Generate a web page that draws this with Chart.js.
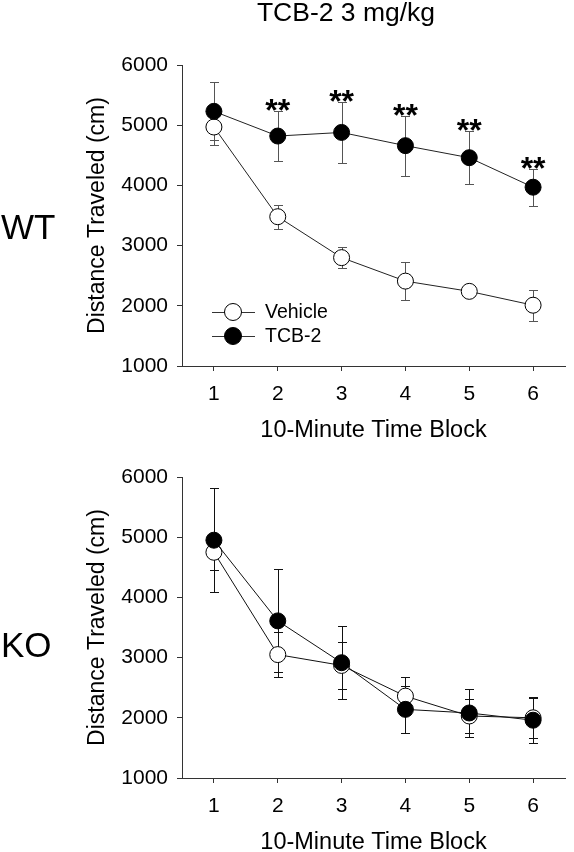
<!DOCTYPE html>
<html>
<head>
<meta charset="utf-8">
<script src="https://cdn.jsdelivr.net/npm/chart.js@4.4.1/dist/chart.umd.min.js"></script>
<style>
  html, body { margin: 0; padding: 0; background: #fff; overflow: hidden; }
  body { width: 574px; height: 852px; position: relative; font-family: 'Liberation Sans', Arial, sans-serif; }
  canvas { position: absolute; left: 0; }
  .lbl { position: absolute; line-height: 1; color: #000; white-space: nowrap; }
</style>
</head>
<body>
<canvas id="wtChart" width="574" height="445" style="top:0"></canvas>
<canvas id="koChart" width="574" height="412" style="top:445px"></canvas>
<div class="lbl" style="left:346px; top:-1px; font-size:26.5px; transform:translateX(-50%)">TCB-2 3 mg/kg</div>
<div class="lbl" style="left:1px; top:209px; font-size:35px">WT</div>
<div class="lbl" style="left:1px; top:627px; font-size:35px">KO</div>
<script>
const timeBlocks = ['1', '2', '3', '4', '5', '6'];

// WT mice
const wtVehicle = [4970, 3480, 2800, 2410, 2240, 2010];
const wtVehicleSem = [300, 200, 180, 310, 90, 255];
const wtTcb = [5230, 4820, 4880, 4660, 4460, 3970];
const wtTcbSem = [480, 410, 505, 500, 445, 305];
const wtSig = ['', '**', '**', '**', '**', '**'];

// KO mice
const koVehicle = [4750, 3050, 2870, 2360, 2030, 2000];
const koVehicleSem = [290, 370, 385, 320, 290, 335];
const koTcb = [4950, 3610, 2915, 2140, 2080, 1960];
const koTcbSem = [865, 855, 610, 395, 400, 380];

const yTicks = [1000, 2000, 3000, 4000, 5000, 6000];
const seriesNames = ['Vehicle', 'TCB-2'];

const FONT = "'Liberation Sans', Arial, Helvetica, sans-serif";
Chart.defaults.font.family = FONT;
Chart.defaults.color = '#000';

// SEM bars, drawn under the markers
const errorBars = {
  id: 'errorBars',
  beforeDatasetsDraw(chart, args, opts) {
    const { ctx } = chart;
    const y = chart.scales.y;
    ctx.save();
    ctx.strokeStyle = opts.color;
    ctx.lineWidth = 1;
    chart.data.datasets.forEach((ds, i) => {
      const meta = chart.getDatasetMeta(i);
      meta.data.forEach((pt, j) => {
        const hi = Math.round(y.getPixelForValue(ds.data[j] + ds.errors[j])) + 0.5;
        const lo = Math.round(y.getPixelForValue(ds.data[j] - ds.errors[j])) + 0.5;
        const x = Math.round(pt.x) + 0.5;
        ctx.beginPath();
        ctx.moveTo(x, hi);
        ctx.lineTo(x, lo);
        ctx.moveTo(x - opts.cap, hi);
        ctx.lineTo(x + opts.cap, hi);
        ctx.moveTo(x - opts.cap, lo);
        ctx.lineTo(x + opts.cap, lo);
        ctx.stroke();
      });
    });
    ctx.restore();
  },
};

// significance stars above the upper SEM bar
const sigMarks = {
  id: 'sigMarks',
  afterDatasetsDraw(chart) {
    const { ctx } = chart;
    const y = chart.scales.y;
    ctx.save();
    ctx.font = `bold 32px ${FONT}`;
    ctx.fillStyle = '#000';
    ctx.textAlign = 'center';
    ctx.textBaseline = 'alphabetic';
    chart.data.datasets.forEach((ds, i) => {
      if (!ds.marks) return;
      const meta = chart.getDatasetMeta(i);
      meta.data.forEach((pt, j) => {
        if (!ds.marks[j]) return;
        const top = y.getPixelForValue(ds.data[j] + ds.errors[j]);
        ctx.fillText(ds.marks[j], pt.x, top + 10);
      });
    });
    ctx.restore();
  },
};

// legend inside the plot, line through marker
const innerLegend = {
  id: 'innerLegend',
  afterDraw(chart, args, opts) {
    if (!opts.display) return;
    const { ctx, chartArea } = chart;
    const x0 = chartArea.left + 30;
    const fills = ['#fff', '#000'];
    ctx.save();
    ctx.font = `19.5px ${FONT}`;
    ctx.textBaseline = 'middle';
    seriesNames.forEach((name, k) => {
      const yy = chartArea.bottom - 54 + k * 24;
      ctx.strokeStyle = '#333';
      ctx.lineWidth = 1;
      ctx.beginPath();
      ctx.moveTo(x0, yy + 0.5);
      ctx.lineTo(x0 + 43, yy + 0.5);
      ctx.stroke();
      ctx.beginPath();
      ctx.arc(x0 + 21, yy, 8.5, 0, Math.PI * 2);
      ctx.fillStyle = fills[k];
      ctx.fill();
      ctx.strokeStyle = '#000';
      ctx.stroke();
      ctx.fillStyle = '#000';
      ctx.fillText(name, x0 + 53, yy + 1);
    });
    ctx.restore();
  },
};

function buildChart(canvasId, vehicle, vehicleSem, tcb, tcbSem, marks, cfg) {
  const ctx = document.getElementById(canvasId).getContext('2d');
  const AXIS = '#333';
  return new Chart(ctx, {
    type: 'line',
    data: {
      labels: timeBlocks,
      datasets: [
        {
          label: seriesNames[1],
          data: tcb,
          errors: tcbSem,
          marks: marks,
          borderColor: cfg.lineColor,
          borderWidth: 1,
          pointRadius: 8,
          pointBorderWidth: 1,
          pointBorderColor: '#000',
          pointBackgroundColor: '#000',
          tension: 0,
        },
        {
          label: seriesNames[0],
          data: vehicle,
          errors: vehicleSem,
          borderColor: cfg.lineColor,
          borderWidth: 1,
          pointRadius: 8,
          pointBorderWidth: 1,
          pointBorderColor: '#000',
          pointBackgroundColor: '#fff',
          tension: 0,
        },
      ],
    },
    options: {
      responsive: false,
      animation: false,
      layout: { padding: { left: 80, right: 2, top: cfg.top, bottom: 0 } },
      plugins: {
        legend: { display: false },
        tooltip: { enabled: false },
        errorBars: { color: cfg.errColor, cap: 4.5 },
        innerLegend: { display: cfg.legend },
      },
      scales: {
        x: {
          type: 'category',
          offset: true,
          grid: { drawOnChartArea: false, offset: false, tickLength: 5, color: AXIS },
          border: { color: AXIS, width: 1 },
          ticks: { padding: 11, font: { size: 21 }, color: '#000' },
          title: {
            display: true,
            text: '10-Minute Time Block',
            font: { size: 23.5 },
            color: '#000',
            padding: { top: 0, bottom: 0 },
          },
          afterFit: (s) => { s.height = cfg.xHeight; },
        },
        y: {
          min: yTicks[0],
          max: yTicks[yTicks.length - 1],
          afterBuildTicks: (s) => { s.ticks = yTicks.map((v) => ({ value: v })); },
          grid: { drawOnChartArea: false, tickLength: 5, color: AXIS },
          border: { color: AXIS, width: 1 },
          ticks: { padding: 9, font: { size: 21 }, color: '#000', callback: (v) => String(v) },
          title: {
            display: true,
            text: 'Distance Traveled (cm)',
            font: { size: 23 },
            color: '#000',
            padding: { top: 4, bottom: 0 },
          },
          afterFit: (s) => { s.width = 102; },
        },
      },
    },
    plugins: [errorBars, sigMarks, innerLegend],
  });
}

buildChart('wtChart', wtVehicle, wtVehicleSem, wtTcb, wtTcbSem, wtSig,
  { top: 65, xHeight: 79, lineColor: '#222', errColor: '#555', legend: true });
buildChart('koChart', koVehicle, koVehicleSem, koTcb, koTcbSem, null,
  { top: 32, xHeight: 79, lineColor: '#111', errColor: '#111', legend: false });
</script>
</body>
</html>
